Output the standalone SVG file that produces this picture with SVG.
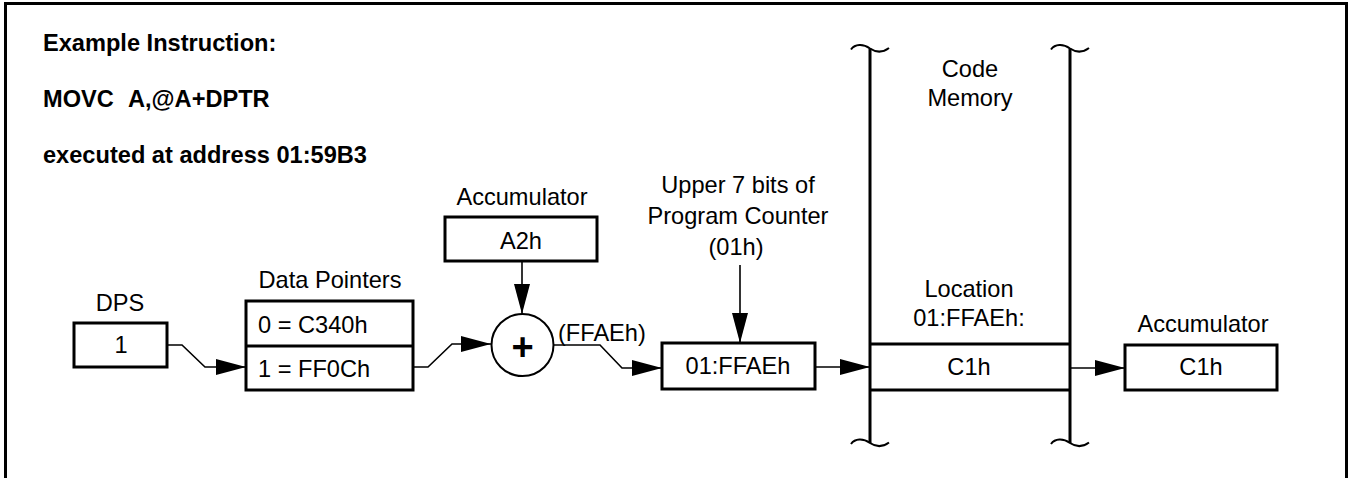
<svg xmlns="http://www.w3.org/2000/svg" width="1348" height="478" viewBox="0 0 1348 478">
<style>
  text { font-family: "Liberation Sans", Arial, Helvetica, sans-serif; font-size: 23.6px; fill: #000; }
  .b { font-weight: bold; }
  .c { text-anchor: middle; }
  .box { fill: #fff; stroke: #000; stroke-width: 3; }
  .wire { fill: none; stroke: #000; stroke-width: 1.6; marker-end: url(#ah); }
  .mem { fill: none; stroke: #000; stroke-width: 3; }
  .tilde { fill: none; stroke: #000; stroke-width: 2; }
</style>
<defs>
  <marker id="ah" markerUnits="userSpaceOnUse" markerWidth="30" markerHeight="16" refX="30" refY="8" orient="auto">
    <path d="M0,0 L30,8 L0,16 Z" fill="#000"/>
  </marker>
  <path id="tl" class="tilde" d="M-19,1 C-15,-4.5 -7,-5 0,0 C6,4 13,4 19,-0.5"/>
</defs>

<path id="frame" d="M5.5,478 V3.5 H1346.5 V478" fill="none" stroke="#000" stroke-width="3"/>

<g id="caption">
  <text class="b" x="43" y="51">Example Instruction:</text>
  <text class="b" x="43" y="107">MOVC</text>
  <text class="b" x="128" y="107">A,@A+DPTR</text>
  <text class="b" x="43" y="163">executed at address 01:59B3</text>
</g>

<g id="connectors">
  <polyline class="wire" points="167,345 182,345 205,367 246,367"/>
  <polyline class="wire" points="413,367 428,367 452,344 491,344"/>
  <line class="wire" x1="522" y1="262" x2="522" y2="314"/>
  <polyline class="wire" points="553.5,345 600,345 622,368 662,368"/>
  <line class="wire" x1="740" y1="265" x2="740" y2="343"/>
  <line class="wire" x1="815" y1="367" x2="870" y2="367"/>
  <line class="wire" x1="1070" y1="368" x2="1125" y2="368"/>
</g>

<g id="dps">
  <text class="c" x="120" y="311">DPS</text>
  <rect class="box" x="74" y="323" width="93" height="44"/>
  <text class="c" x="121" y="353">1</text>
</g>

<g id="data-pointers">
  <text class="c" x="330" y="288">Data Pointers</text>
  <rect class="box" x="246" y="301" width="167" height="89"/>
  <line x1="246" y1="346" x2="413" y2="346" stroke="#000" stroke-width="3"/>
  <text x="258" y="333">0 = C340h</text>
  <text x="258" y="377">1 = FF0Ch</text>
</g>

<g id="accumulator-in">
  <text class="c" x="522" y="205">Accumulator</text>
  <rect class="box" x="445" y="217" width="152" height="44"/>
  <text class="c" x="521" y="249">A2h</text>
</g>

<g id="adder">
  <circle cx="522.5" cy="345" r="31" fill="#fff" stroke="#000" stroke-width="2"/>
  <text class="b c" x="522.5" y="360" style="font-size:38px">+</text>
</g>

<text id="sum-label" x="558" y="341">(FFAEh)</text>

<g id="pc-address">
  <text class="c" x="738" y="193">Upper 7 bits of</text>
  <text class="c" x="738" y="224">Program Counter</text>
  <text class="c" x="736" y="255">(01h)</text>
  <rect class="box" x="662" y="343" width="153" height="46"/>
  <text class="c" x="738" y="374">01:FFAEh</text>
</g>

<g id="code-memory">
  <line class="mem" x1="870" y1="48.5" x2="870" y2="443"/>
  <line class="mem" x1="1070" y1="48.5" x2="1070" y2="443"/>
  <use href="#tl" x="870" y="48.5"/>
  <use href="#tl" x="1070" y="48.5"/>
  <use href="#tl" x="870" y="443"/>
  <use href="#tl" x="1070" y="443"/>
  <text class="c" x="970" y="77">Code</text>
  <text class="c" x="970" y="106">Memory</text>
  <text class="c" x="969" y="297">Location</text>
  <text class="c" x="969" y="326">01:FFAEh:</text>
  <line class="mem" x1="870" y1="344" x2="1070" y2="344"/>
  <line class="mem" x1="870" y1="390" x2="1070" y2="390"/>
  <text class="c" x="969" y="375">C1h</text>
</g>

<g id="accumulator-out">
  <text class="c" x="1203" y="332">Accumulator</text>
  <rect class="box" x="1125" y="345" width="152" height="45"/>
  <text class="c" x="1201" y="375">C1h</text>
</g>
</svg>
